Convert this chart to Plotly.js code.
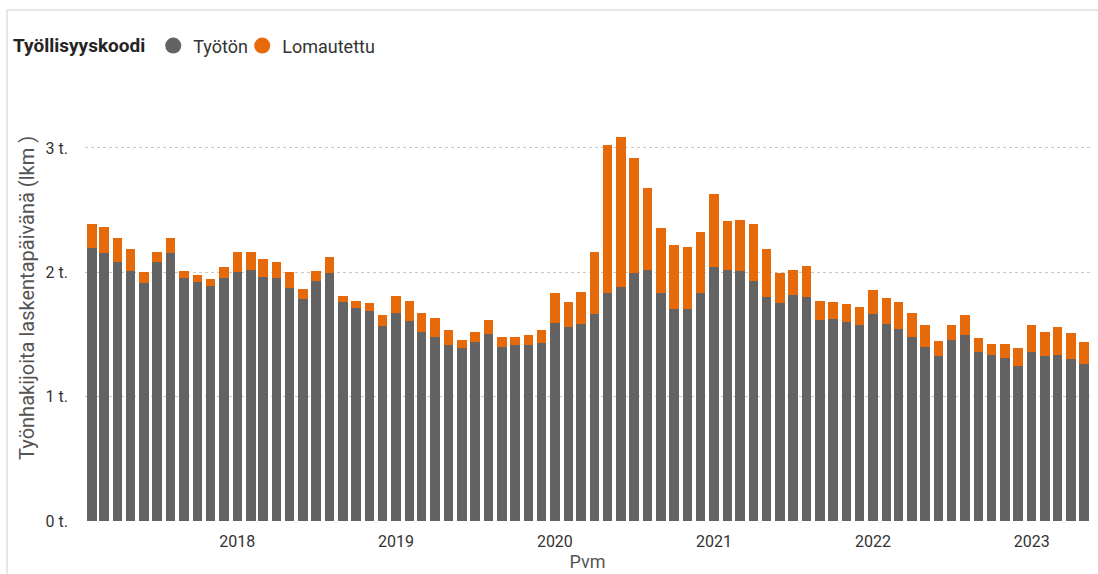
<!DOCTYPE html>
<html>
<head>
<meta charset="utf-8">
<script src="https://cdn.plot.ly/plotly-3.0.1.min.js"></script>
<style>
  html, body { margin: 0; padding: 0; background: #fff; }
  #chart { width: 1098px; height: 574px; }
  #frame { position: absolute; left: 6px; top: 9px; width: 1092px; height: 565px;
           border-top: 2px solid #e6e6e6; border-left: 2px solid #e6e6e6; pointer-events: none; }
</style>
</head>
<body>
<div id="chart"></div>
<div id="frame"></div>
<script>
// Months: Feb 2017 .. May 2023
const months = [];
(function () {
  let y = 2017, m = 2;
  while (y < 2023 || (y === 2023 && m <= 5)) {
    months.push(y + '-' + String(m).padStart(2, '0') + '-01');
    m++; if (m > 12) { m = 1; y++; }
  }
})();

// Työtön (unemployed)
const tyoton = [
  2199, 2153, 2086, 2011, 1917, 2086, 2153, 1952, 1920, 1891, 1955,
  2003, 2022, 1966, 1955, 1874, 1786, 1933, 1993, 1765, 1716, 1689, 1566,
  1671, 1606, 1521, 1480, 1416, 1389, 1443, 1502, 1402, 1413, 1413, 1435,
  1595, 1563, 1588, 1663, 1837, 1885, 1998, 2019, 1831, 1706, 1704, 1837,
  2046, 2019, 2014, 1933, 1805, 1751, 1818, 1805, 1617, 1622, 1601, 1580,
  1663, 1582, 1542, 1483, 1402, 1330, 1456, 1494, 1360, 1333, 1311, 1250,
  1357, 1330, 1335, 1301, 1261
];
// Totals (Työtön + Lomautettu)
const total = [
  2389, 2368, 2279, 2188, 2000, 2161, 2279, 2011, 1979, 1944, 2046,
  2161, 2161, 2105, 2084, 2000, 1864, 2011, 2121, 1808, 1770, 1756, 1655,
  1808, 1770, 1676, 1636, 1537, 1456, 1523, 1617, 1483, 1483, 1496, 1534,
  1837, 1759, 1841, 2167, 3025, 3092, 2923, 2676, 2354, 2220, 2207, 2322,
  2631, 2416, 2418, 2387, 2186, 1998, 2019, 2051, 1773, 1759, 1748, 1722,
  1858, 1791, 1759, 1671, 1574, 1448, 1576, 1657, 1472, 1427, 1424, 1394,
  1574, 1523, 1561, 1515, 1438
];
// Lomautettu (laid off)
const lomautettu = total.map((t, i) => t - tyoton[i]);

const yTickVals = [0, 1000, 2000, 3000];
const yTickText = ['0 t.', '1 t.', '2 t.', '3 t.'];

const GRAY = '#636363';
const ORANGE = '#E66A0A';
const FONT = 'Roboto, "DejaVu Sans", sans-serif';

const traces = [
  { type: 'bar', name: 'Työtön', x: months, y: tyoton, marker: { color: GRAY }, showlegend: false,
    hovertemplate: '%{x|%b %Y}: %{y}<extra>Työtön</extra>' },
  { type: 'bar', name: 'Lomautettu', x: months, y: lomautettu, marker: { color: ORANGE }, showlegend: false,
    hovertemplate: '%{x|%b %Y}: %{y}<extra>Lomautettu</extra>' },
  // legend-only entries with circle markers
  { type: 'scatter', mode: 'markers', name: 'Työtön', x: [null], y: [null], legendwidth: 44,
    marker: { color: GRAY, symbol: 'circle', size: 19 }, showlegend: true },
  { type: 'scatter', mode: 'markers', name: 'Lomautettu', x: [null], y: [null], legendwidth: 110,
    marker: { color: ORANGE, symbol: 'circle', size: 19 }, showlegend: true }
];

const layout = {
  width: 1098, height: 574,
  margin: { l: 85, r: 8, t: 100, b: 53 },
  paper_bgcolor: '#ffffff', plot_bgcolor: '#ffffff',
  font: { family: FONT, size: 16, color: '#333333' },
  barmode: 'stack',
  bargap: 0.22,
  showlegend: true,
  legend: {
    orientation: 'h', xref: 'container', yref: 'container',
    x: 0.01, y: 0.92, xanchor: 'left', yanchor: 'middle',
    title: { text: '<b>Työllisyyskoodi</b>', font: { size: 19, color: '#252423' } },
    font: { size: 18, color: '#333333' },
    itemwidth: 30, tracegroupgap: 0, traceorder: 'normal'
  },
  xaxis: {
    type: 'date',
    range: ['2017-01-16', '2023-05-15'],
    tick0: '2018-01-01', dtick: 'M12', tickformat: '%Y',
    showgrid: false, zeroline: false, showline: false, ticks: '',
    ticklabelstandoff: 9,
    tickfont: { size: 16, color: '#333333' },
    title: { text: 'Pvm', font: { size: 18, color: '#555555' }, standoff: 2 },
    fixedrange: true
  },
  yaxis: {
    range: [0, 3386],
    tickvals: yTickVals, ticktext: yTickText,
    showgrid: true, gridcolor: '#c8c8c8', griddash: 'dot', gridwidth: 1,
    zeroline: false, showline: false, ticks: '',
    ticklabelstandoff: 16,
    tickfont: { size: 16, color: '#333333' },
    fixedrange: true
  },
  annotations: [{
    text: 'Työnhakijoita laskentapäivänä (lkm )',
    textangle: -90, showarrow: false,
    xref: 'paper', yref: 'paper',
    x: -0.0577, y: 0.53, xanchor: 'center', yanchor: 'middle',
    font: { size: 20, color: '#555555' }
  }]
};

Plotly.newPlot('chart', traces, layout, { displayModeBar: false, staticPlot: true });
</script>
</body>
</html>
